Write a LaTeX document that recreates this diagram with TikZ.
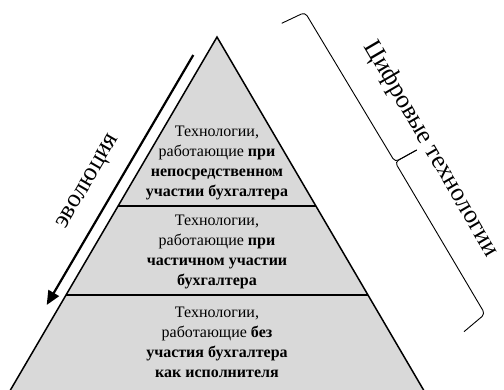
\documentclass[tikz,border=0pt]{standalone}
\usepackage{fontspec}
\setmainfont{Liberation Serif}
\usetikzlibrary{positioning, arrows.meta, calc}

\begin{document}
\begin{tikzpicture}[
    x=1pt, y=1pt,
    >={Triangle[length=14pt, width=12pt]},
    edge/.style={draw=black, line width=1.5pt, line join=miter},
    band/.style={draw=black, line width=1.4pt},
    tier/.style={align=center, font=\fontsize{16}{20}\selectfont, inner sep=0pt},
    side/.style={font=\fontsize{25.5}{30}\selectfont, inner sep=0pt},
    brace/.style={draw=black, line width=0.9pt, rounded corners=4pt}
  ]

  \useasboundingbox (0,0) rectangle (504,389);
  \clip (0,0) rectangle (504,389);

  % --- PYRAMID CORNERS ---
  \coordinate (apex) at (217,352);
  \coordinate (l1) at (118.1,183);
  \coordinate (r1) at (315.9,183);
  \coordinate (l2) at (66,94);
  \coordinate (r2) at (368,94);
  \coordinate (l0) at (8.1,-5);
  \coordinate (r0) at (425.9,-5);

  % --- PYRAMID ---
  \fill[gray!30] (apex) -- (l0) -- (r0) -- cycle;
  \draw[band] (l1) -- (r1);
  \draw[band] (l2) -- (r2);
  \draw[edge] (l0) -- (apex) -- (r0);

  % --- TIERS ---
  \node[tier] (tier1) at (217,226) {Технологии,\\работающие \textbf{при}\\\textbf{непосредственном}\\\textbf{участии бухгалтера}};
  \node[tier] (tier2) at (217,137) {Технологии,\\работающие \textbf{при}\\\textbf{частичном участии}\\\textbf{бухгалтера}};
  \node[tier] (tier3) at (217,47) {Технологии,\\работающие \textbf{без}\\\textbf{участия бухгалтера}\\\textbf{как исполнителя}};

  % --- EVOLUTION ARROW ---
  \coordinate (evoStart) at (193.3,334);
  \coordinate (evoEnd) at (46.7,84);
  \draw[->, line width=2.2pt] (evoStart) -- (evoEnd);
  \node[side, rotate=59.7] (evoLabel) at (89,207) {эволюция};

  % --- BRACE ---
  \coordinate (b1) at (281.7,365.7);
  \coordinate (b2) at (305,376.7);
  \coordinate (bmid) at (395,227);
  \coordinate (btip) at (416.7,239);
  \coordinate (b5) at (485,75);
  \coordinate (b6) at (464,57.3);
  \draw[brace] (b1) -- (b2) -- (bmid) -- (btip);
  \draw[brace] (btip) -- (bmid) -- (b5) -- (b6);
  \node[side, rotate=-59.7] (digLabel) at (431,240) {Цифровые технологии};

\end{tikzpicture}
\end{document}
